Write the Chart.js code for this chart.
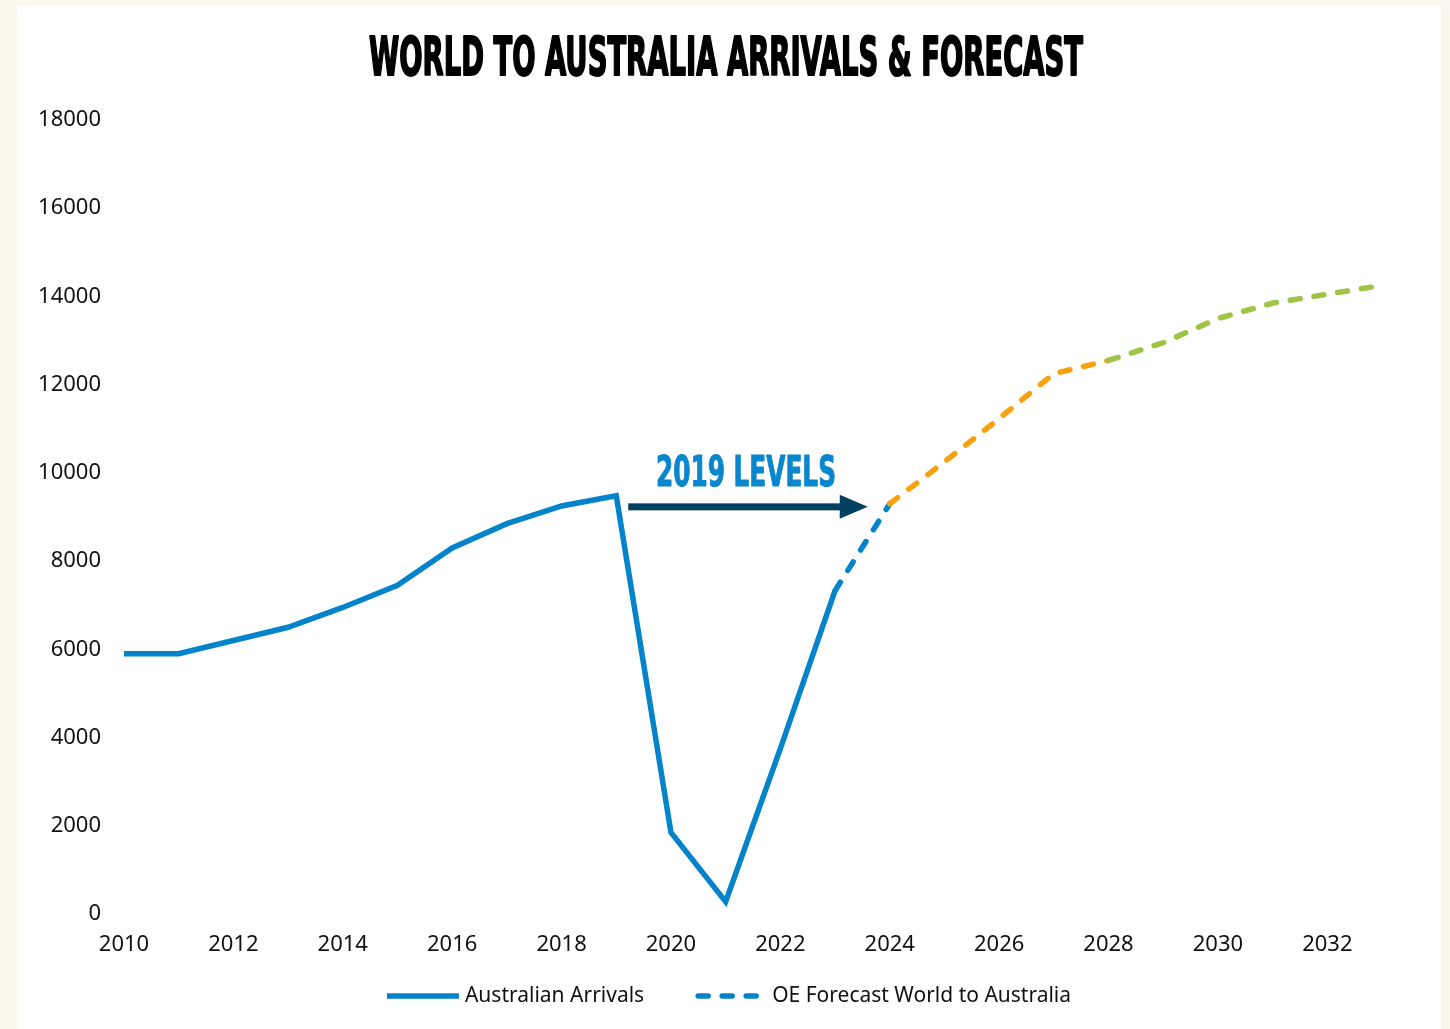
<!DOCTYPE html>
<html>
<head>
<meta charset="utf-8">
<title>World to Australia Arrivals & Forecast</title>
<script src="https://cdn.jsdelivr.net/npm/chart.js@4.4.1/dist/chart.umd.min.js"></script>
<style>
    html, body { margin: 0; padding: 0; background: #faf8ec; }
    #wrap { position: absolute; left: 0; top: 0; width: 1450px; height: 1029px; }
</style>
</head>
<body>
<div id="wrap"><canvas id="arrivalsChart" width="1450" height="1029"></canvas></div>
<script>
const years = [2010, 2011, 2012, 2013, 2014, 2015, 2016, 2017, 2018, 2019, 2020, 2021, 2022, 2023];
const arrivals = [5900, 5900, 6200, 6500, 6950, 7450, 8300, 8850, 9250, 9480, 1850, 280, 3750, 7330];

// OE forecast, starts from the last actual year
const forecastYears = [2023, 2024, 2025, 2026, 2027, 2028, 2029, 2030, 2031, 2032, 2033];
const forecast = [7330, 9300, 10250, 11230, 12250, 12550, 12950, 13500, 13850, 14050, 14250];

const xTicks = [2010, 2012, 2014, 2016, 2018, 2020, 2022, 2024, 2026, 2028, 2030, 2032];
const yTicks = [0, 2000, 4000, 6000, 8000, 10000, 12000, 14000, 16000, 18000];

const titleText = "WORLD TO AUSTRALIA ARRIVALS & FORECAST";
const noteText = "2019 LEVELS";
const noteLevel = 9230;

const BLUE = "#0383ca";
const ORANGE = "#f9a00f";
const GREEN = "#9fc345";
const NAVY = "#04405f";
const FORECAST_DASH = [10, 14];

function forecastColour(year) {
    if (year < 2024) return BLUE;
    if (year < 2028) return ORANGE;
    return GREEN;
}

function drawCondensed(ctx, text, cx, baseline, width, font, colour, stroke) {
    ctx.save();
    ctx.font = font;
    ctx.textAlign = "center";
    ctx.textBaseline = "alphabetic";
    ctx.fillStyle = colour;
    ctx.fillText(text, cx, baseline, width);
    if (stroke) {
        ctx.strokeStyle = colour;
        ctx.lineWidth = stroke;
        ctx.lineJoin = "round";
        ctx.strokeText(text, cx, baseline, width);
    }
    ctx.restore();
}

const backgroundPlugin = {
    id: "panel",
    beforeDraw(chart) {
        const ctx = chart.ctx;
        ctx.save();
        ctx.fillStyle = "#faf8ec";
        ctx.fillRect(0, 0, chart.width, chart.height);
        ctx.fillStyle = "#ffffff";
        ctx.fillRect(17, 6, 1424, chart.height);
        ctx.restore();
    }
};

// legend drawn by hand so the spacing can match the original
const legendPlugin = {
    id: "lineLegend",
    afterDraw(chart) {
        const ctx = chart.ctx;
        const ds = chart.data.datasets;
        const y = 996;
        ctx.save();
        ctx.font = "21px 'Noto Sans'";
        const w1 = ctx.measureText(ds[0].label).width;
        const w2 = ctx.measureText(ds[1].label).width;
        const total = 72 + 6 + w1 + 51 + 65 + 12 + w2;
        let x = 729 - total / 2;

        ctx.strokeStyle = BLUE;
        ctx.lineWidth = 5.5;
        ctx.lineCap = "butt";
        ctx.beginPath();
        ctx.moveTo(x, y);
        ctx.lineTo(x + 72, y);
        ctx.stroke();
        x += 78;
        ctx.fillStyle = "#111111";
        ctx.textAlign = "left";
        ctx.textBaseline = "middle";
        ctx.fillText(ds[0].label, x, y);
        x += w1 + 51;

        ctx.setLineDash(FORECAST_DASH);
        ctx.lineCap = "round";
        ctx.beginPath();
        ctx.moveTo(x + 3, y);
        ctx.lineTo(x + 62, y);
        ctx.stroke();
        ctx.setLineDash([]);
        x += 77;
        ctx.fillText(ds[1].label, x, y);
        ctx.restore();
    }
};

const annotationPlugin = {
    id: "annotations",
    afterDraw(chart) {
        const ctx = chart.ctx;
        const x = chart.scales.x;
        const y = chart.scales.y;

        // title
        drawCondensed(ctx, titleText, 726, 75, 714, "bold 53px 'DejaVu Sans Condensed', 'DejaVu Sans'", "#000000", 2);

        // arrow pointing from 2019 peak to 2024 recovery
        const x0 = x.getPixelForValue(2019) + 12;
        const x1 = x.getPixelForValue(2024) - 22;
        const yy = y.getPixelForValue(noteLevel);
        ctx.save();
        ctx.fillStyle = NAVY;
        ctx.fillRect(x0, yy - 3.5, x1 - x0 - 26, 7);
        ctx.beginPath();
        ctx.moveTo(x1, yy);
        ctx.lineTo(x1 - 28, yy - 12);
        ctx.lineTo(x1 - 28, yy + 12);
        ctx.closePath();
        ctx.fill();
        ctx.restore();

        drawCondensed(ctx, noteText, (x0 + x1) / 2 - 2, yy - 21, 180, "bold 43px 'DejaVu Sans Condensed', 'DejaVu Sans'", "#0a86cd", 1);
    }
};

const ctx = document.getElementById("arrivalsChart");

new Chart(ctx, {
    type: "line",
    data: {
        datasets: [
            {
                label: "Australian Arrivals",
                data: years.map((yr, i) => ({ x: yr, y: arrivals[i] })),
                borderColor: BLUE,
                backgroundColor: BLUE,
                borderWidth: 5.5,
                borderJoinStyle: "miter",
                pointRadius: 0,
                tension: 0,
                fill: false
            },
            {
                label: "OE Forecast World to Australia",
                data: forecastYears.map((yr, i) => ({ x: yr, y: forecast[i] })),
                borderColor: BLUE,
                backgroundColor: BLUE,
                borderWidth: 5.5,
                borderDash: FORECAST_DASH,
                borderCapStyle: "round",
                pointRadius: 0,
                tension: 0,
                fill: false,
                segment: {
                    borderColor: c => forecastColour(c.p0.parsed.x)
                }
            }
        ]
    },
    options: {
        responsive: false,
        animation: false,
        layout: {
            padding: { top: 120, left: 0, right: 68, bottom: 53 }
        },
        plugins: {
            title: { display: false },
            tooltip: { enabled: false },
            legend: { display: false }
        },
        scales: {
            x: {
                type: "linear",
                min: 2010,
                max: 2033,
                grid: { display: false, drawTicks: false },
                border: { display: false },
                afterBuildTicks: function (axis) {
                    axis.ticks = xTicks.map(v => ({ value: v }));
                },
                afterFit: function (axis) {
                    axis.height = 62;
                },
                ticks: {
                    padding: 18,
                    maxRotation: 0,
                    color: "#111111",
                    font: { family: "'Noto Sans'", size: 22 },
                    callback: function (value) {
                        return String(value);
                    }
                }
            },
            y: {
                min: 0,
                max: 18000,
                grid: { display: false, drawTicks: false },
                border: { display: false },
                afterBuildTicks: function (axis) {
                    axis.ticks = yTicks.map(v => ({ value: v }));
                },
                afterFit: function (axis) {
                    axis.width = 124;
                },
                ticks: {
                    padding: 23,
                    color: "#111111",
                    font: { family: "'Noto Sans'", size: 22 },
                    callback: function (value) {
                        return String(value);
                    }
                }
            }
        }
    },
    plugins: [backgroundPlugin, legendPlugin, annotationPlugin]
});
</script>
</body>
</html>
